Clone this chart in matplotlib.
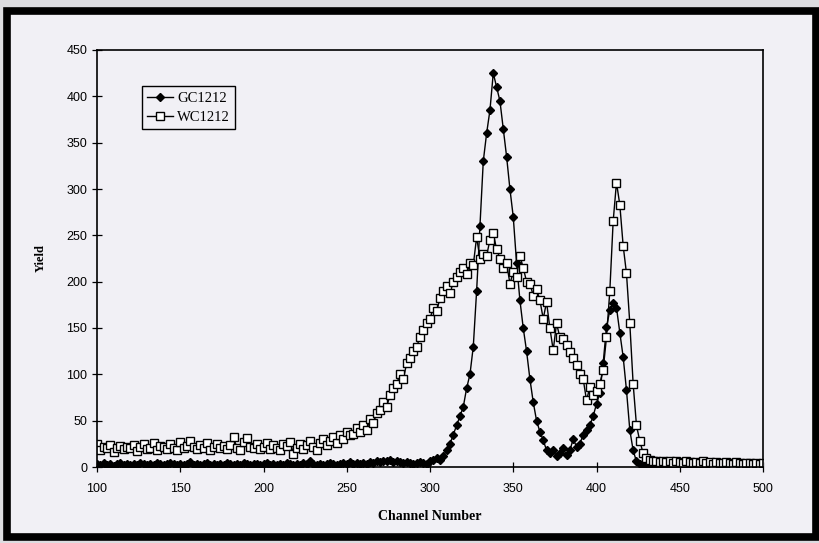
import numpy as np
import matplotlib
matplotlib.use("Agg")
import matplotlib.pyplot as plt
from matplotlib.patches import Rectangle

# channel numbers, every 2nd channel from 100 to 500
channels = np.arange(100, 501, 2)

gc1212 = [
    3, 2, 4, 2, 3, 1, 3, 4, 2, 3,            # 100-118
    2, 3, 2, 4, 3, 2, 3, 2, 4, 3,            # 120-138
    2, 3, 4, 3, 2, 3, 2, 3, 5, 2,            # 140-158
    3, 2, 3, 4, 2, 3, 2, 3, 2, 4,            # 160-178
    3, 2, 3, 2, 4, 3, 2, 3, 3, 2,            # 180-198
    3, 4, 2, 3, 2, 3, 2, 4, 3, 2,            # 200-218
    3, 2, 4, 3, 6, 3, 2, 3, 2, 3,            # 220-238
    4, 3, 2, 3, 4, 3, 5, 3, 4, 3,            # 240-258
    4, 3, 5, 4, 6, 5, 7, 6, 8, 5,            # 260-278
    6, 5, 4, 5, 4, 3, 4, 5, 4, 3,            # 280-298
    6, 8, 10, 8, 12, 18, 25, 35, 45, 55,     # 300-318
    65, 85, 100, 130, 190, 260, 330, 360, 385, 425,   # 320-338
    410, 395, 365, 335, 300, 270, 220, 180, 150, 125,  # 340-358
    95, 70, 50, 38, 29, 18, 15, 18, 12, 15,  # 360-378
    20, 13, 18, 30, 22, 25, 35, 40, 45, 55,  # 380-398
    68, 80, 112, 151, 169, 177, 172, 145, 119, 83,    # 400-418
    40, 18, 6, 3, 3, 2, 3, 2, 3, 2,          # 420-438
    2, 3, 2, 2, 3, 2, 2, 3, 2, 2,            # 440-458
    3, 2, 2, 3, 2, 2, 3, 2, 2, 3,            # 460-478
    2, 2, 3, 2, 2, 3, 2, 2, 2, 3,            # 480-498
    2,                                       # 500
]

wc1212 = [
    25, 18, 22, 20, 24, 16, 21, 23, 19, 22,   # 100-118
    20, 24, 17, 22, 25, 19, 21, 26, 18, 23,   # 120-138
    22, 19, 25, 21, 18, 27, 20, 23, 28, 22,   # 140-158
    19, 24, 21, 26, 18, 22, 25, 20, 23, 19,   # 160-178
    24, 32, 21, 18, 27, 31, 22, 20, 25, 19,   # 180-198
    22, 26, 19, 24, 21, 18, 25, 23, 27, 14,   # 200-218
    21, 25, 19, 24, 28, 22, 18, 26, 30, 24,   # 220-238
    28, 32, 26, 35, 30, 38, 34, 36, 42, 38,   # 240-258
    45, 40, 52, 48, 58, 62, 70, 65, 78, 85,   # 260-278
    90, 100, 95, 112, 118, 125, 130, 140, 148, 155,   # 280-298
    160, 172, 168, 182, 190, 195, 188, 200, 205, 210,  # 300-318
    215, 208, 220, 218, 248, 225, 230, 228, 245, 252,  # 320-338
    235, 225, 215, 220, 198, 210, 205, 228, 215, 200,  # 340-358
    198, 185, 192, 180, 160, 178, 150, 126, 155, 140,  # 360-378
    138, 132, 124, 118, 110, 100, 95, 72, 86, 78,      # 380-398
    82, 90, 105, 140, 190, 265, 307, 283, 239, 209,    # 400-418
    155, 90, 45, 28, 15, 10, 8, 6, 7, 5,      # 420-438
    6, 5, 7, 4, 6, 5, 4, 6, 5, 4,             # 440-458
    5, 4, 6, 4, 5, 3, 5, 4, 4, 5,             # 460-478
    4, 3, 5, 4, 3, 4, 4, 3, 4, 3,             # 480-498
    4,                                        # 500
]

x_ticks = [100, 150, 200, 250, 300, 350, 400, 450, 500]
y_ticks = [0, 50, 100, 150, 200, 250, 300, 350, 400, 450]

paper = "#f1f0f5"
serif = ["Liberation Serif", "DejaVu Serif"]
narrow = ["Liberation Sans Narrow", "Liberation Sans", "DejaVu Sans"]

fig = plt.figure(figsize=(8.19, 5.43), dpi=100)
fig.patch.set_facecolor("#dcdce0")

# scanned page with thick black frame, kept behind the axes
frame = Rectangle((6.5 / 819, 6 / 543), 809 / 819, 526 / 543,
                  transform=fig.transFigure, facecolor=paper,
                  edgecolor="black", linewidth=5.5, zorder=-10)
fig.add_artist(frame)

ax = fig.add_axes([97 / 819, 76 / 543, 666 / 819, 417 / 543])
ax.set_facecolor(paper)
ax.set_zorder(1)

ax.plot(channels, gc1212, color="black", lw=1.0, marker="D", markersize=4,
        markerfacecolor="black", markeredgecolor="black", label="GC1212")
ax.plot(channels, wc1212, color="black", lw=1.0, marker="s", markersize=5.5,
        markerfacecolor="white", markeredgecolor="black", markeredgewidth=1.0,
        label="WC1212")

ax.set_xlim(100, 500)
ax.set_ylim(0, 450)
ax.set_xticks(x_ticks)
ax.set_yticks(y_ticks)
ax.tick_params(direction="inout", length=7, width=0.9, labelsize=9)
ax.tick_params(axis="x", pad=8)
for lab in ax.get_xticklabels() + ax.get_yticklabels():
    lab.set_family(narrow)
for s in ax.spines.values():
    s.set_linewidth(1.2)

ax.set_xlabel("Channel Number", family=serif, fontsize=10, fontweight="bold",
              labelpad=11)
ax.set_ylabel("Yield", family=serif, fontsize=9, fontweight="bold", labelpad=14)

leg = ax.legend(loc="upper left", bbox_to_anchor=(0.056, 0.93), fancybox=False,
                framealpha=1, edgecolor="black", facecolor=paper,
                prop={"family": serif, "size": 10.5}, handlelength=1.8,
                handletextpad=0.3, borderpad=0.35, labelspacing=0.4)
leg.get_frame().set_linewidth(1.0)

fig.savefig("out.png", dpi=100, facecolor=fig.get_facecolor())
